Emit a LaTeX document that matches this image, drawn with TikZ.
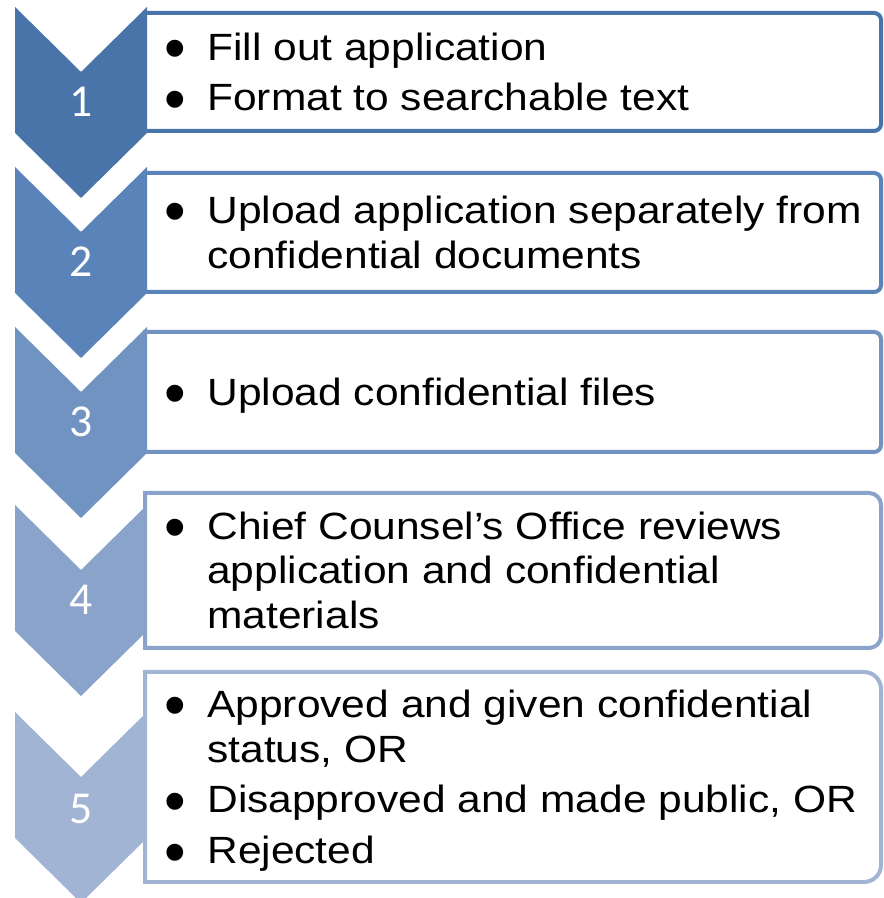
\documentclass[tikz,border=0pt]{standalone}
\usepackage{fontspec}
\usepackage{graphicx}
\setmainfont{Liberation Sans}[FakeStretch=1.12]
\newfontfamily\numfont{Carlito}
\definecolor{stepA}{HTML}{4874AA}
\definecolor{stepB}{HTML}{5A83B9}
\definecolor{stepC}{HTML}{7093C1}
\definecolor{stepD}{HTML}{89A3CB}
\definecolor{stepE}{HTML}{A2B4D4}
\newcommand{\bul}{\makebox[0.78cm][l]{\hspace*{-0.07cm}\smash{\raisebox{-0.24em}{\scalebox{1.45}[1.65]{\textbullet}}}}}

\tikzset{
  stepnum/.style={text=white, inner sep=0pt, font=\numfont\fontsize{26}{26}\selectfont},
  stepframe/.style={line width=0.08cm, fill=white},
  steptext/.style={anchor=west, inner sep=0pt, align=left,
    font=\fontsize{21.6}{25.6}\selectfont},
}

\begin{document}
\begin{tikzpicture}[x=0.02cm, y=0.02cm]
\useasboundingbox (0,0) rectangle (883,898);

% Chevrons
\fill[stepA] (15,891) -- (81,826) -- (147,891) -- (147,765) -- (81,700) -- (15,765) -- cycle;
\fill[stepB] (15,731) -- (81,666) -- (147,731) -- (147,605) -- (81,540) -- (15,605) -- cycle;
\fill[stepC] (15,571) -- (81,506) -- (147,571) -- (147,445) -- (81,380) -- (15,445) -- cycle;
\fill[stepD] (15,393) -- (81,328) -- (147,393) -- (147,267) -- (81,202) -- (15,267) -- cycle;
\fill[stepE] (15,186) -- (81,121) -- (147,186) -- (147,60) -- (81,-5) -- (15,60) -- cycle;

\node[stepnum] (num1) at (81,796) {1};
\node[stepnum] (num2) at (81,636) {2};
\node[stepnum] (num3) at (81,476) {3};
\node[stepnum] (num4) at (81,298) {4};
\node[stepnum] (num5) at (81,89) {5};

% Frames, square on the left, rounded on the right
\draw[stepframe, draw=stepA] (145,767) -- (145,885) -- (866,885) [rounded corners=0.14cm]
  -- (881,885) -- (881,767) -- (866,767) [sharp corners] -- cycle;
\draw[stepframe, draw=stepB] (145,606) -- (145,725) -- (866,725) [rounded corners=0.14cm]
  -- (881,725) -- (881,606) -- (866,606) [sharp corners] -- cycle;
\draw[stepframe, draw=stepC] (145,446) -- (145,566) -- (866,566) [rounded corners=0.14cm]
  -- (881,566) -- (881,446) -- (866,446) [sharp corners] -- cycle;
\draw[stepframe, draw=stepD] (145,250) -- (145,405) -- (856,405) [rounded corners=0.24cm]
  -- (881,405) -- (881,250) -- (856,250) [sharp corners] -- cycle;
\draw[stepframe, draw=stepE] (145,16) -- (145,226) -- (846,226) [rounded corners=0.34cm]
  -- (881,226) -- (881,16) -- (846,16) [sharp corners] -- cycle;

% Step texts
\node[steptext] (txt1) at (168,821.5) {\begin{tabular}{@{}l@{}l@{}}
  \bul & Fill out application\\[3.4pt]
  \bul & Format to searchable text
\end{tabular}};
\node[steptext] (txt2) at (168,661) {\begin{tabular}{@{}l@{}l@{}}
  \bul & Upload application separately from\\
       & confidential documents
\end{tabular}};
\node[steptext] (txt3) at (168,501.5) {\begin{tabular}{@{}l@{}l@{}}
  \bul & Upload confidential files
\end{tabular}};
\node[steptext] (txt4) at (168,323) {\begin{tabular}{@{}l@{}l@{}}
  \bul & Chief Counsel’s Office reviews\\
       & application and confidential\\
       & materials
\end{tabular}};
\node[steptext] (txt5) at (168,116.5) {\begin{tabular}{@{}l@{}l@{}}
  \bul & Approved and given confidential\\
       & status, OR\\[3.4pt]
  \bul & Disapproved and made public, OR\\[3.4pt]
  \bul & Rejected
\end{tabular}};

\end{tikzpicture}
\end{document}
